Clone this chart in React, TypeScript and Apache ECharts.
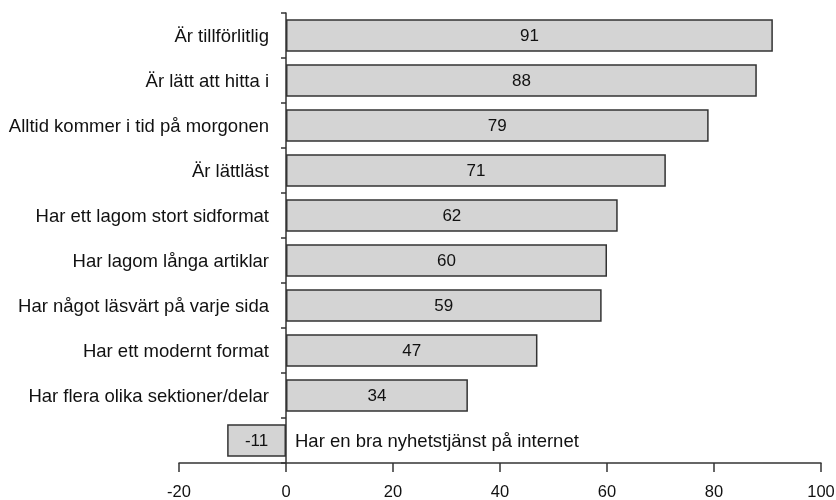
import React, { useEffect, useRef } from "react";
import * as echarts from "echarts";

const categories = [
  "Är tillförlitlig",
  "Är lätt att hitta i",
  "Alltid kommer i tid på morgonen",
  "Är lättläst",
  "Har ett lagom stort sidformat",
  "Har lagom långa artiklar",
  "Har något läsvärt på varje sida",
  "Har ett modernt format",
  "Har flera olika sektioner/delar",
  "Har en bra nyhetstjänst på internet",
];
const values = [91, 88, 79, 71, 62, 60, 59, 47, 34, -11];
// The category whose label is written to the right of the zero line instead of on the axis
const rightLabelled = ["Har en bra nyhetstjänst på internet"];
const xTicks = { min: -20, max: 100, interval: 20 };

const FONT = "'Liberation Sans', Arial, Helvetica, sans-serif";

export default function App() {
  const ref = useRef<HTMLDivElement>(null);
  useEffect(() => {
    if (!ref.current) return;
    const chart = echarts.init(ref.current, null, { renderer: "svg" });
    const markerData = categories.map((c) => (rightLabelled.includes(c) ? 0 : null));
    chart.setOption({
      animation: false,
      textStyle: { fontFamily: FONT },
      grid: { left: 179, right: 15, top: 13, bottom: 37, containLabel: false, outerBoundsMode: "none" },
      xAxis: {
        type: "value",
        min: xTicks.min,
        max: xTicks.max,
        interval: xTicks.interval,
        splitLine: { show: false },
        axisLine: { show: true, onZero: false, lineStyle: { color: "#333", width: 1.5 } },
        axisTick: { show: true, inside: false, length: 9, lineStyle: { color: "#333", width: 1.5 } },
        axisLabel: { color: "#111", fontSize: 16.5, lineHeight: 15, margin: 20, fontFamily: FONT },
      },
      yAxis: {
        type: "category",
        inverse: true,
        data: categories,
        axisLine: { show: true, onZero: true, lineStyle: { color: "#333", width: 1.5 } },
        axisTick: { show: true, inside: false, length: 5, alignWithLabel: false, lineStyle: { color: "#333", width: 1.5 } },
        axisLabel: {
          color: "#111",
          fontSize: 18.5,
          margin: -90,
          fontFamily: FONT,
          formatter: (v: string) => (rightLabelled.includes(v) ? "" : v),
        },
      },
      series: [
        {
          type: "bar",
          data: values,
          barWidth: "72%",
          itemStyle: { color: "#d4d4d4", borderColor: "#333", borderWidth: 1.5 },
          label: {
            show: true,
            position: "inside",
            color: "#111",
            fontSize: 17,
            fontFamily: FONT,
          },
          silent: true,
        },
        {
          type: "bar",
          data: markerData,
          barWidth: "72%",
          barGap: "-100%",
          itemStyle: { color: "rgba(0,0,0,0)", borderWidth: 0 },
          label: {
            show: true,
            position: "right",
            distance: 9,
            color: "#111",
            fontSize: 18.5,
            fontFamily: FONT,
            formatter: (p: any) => p.name,
          },
          silent: true,
        },
      ],
    });
    return () => chart.dispose();
  }, []);
  return (
    <div
      ref={ref}
      style={{ position: "fixed", left: 0, top: 0, width: 836, height: 500 }}
    />
  );
}
